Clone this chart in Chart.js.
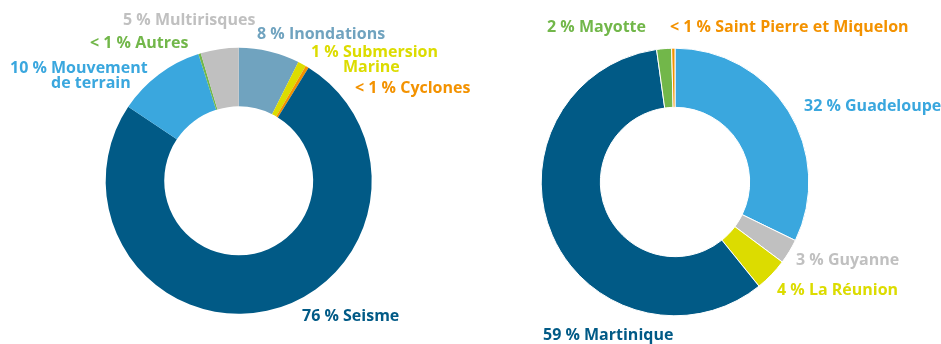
<!DOCTYPE html>
<html>
<head>
<meta charset="utf-8">
<script src="https://cdn.jsdelivr.net/npm/chart.js@4.4.1/dist/chart.umd.min.js"></script>
<style>
  html, body { margin: 0; padding: 0; background: #fff; overflow: hidden; }
  #wrap { position: relative; width: 941px; height: 344px; }
  canvas { position: absolute; top: 0; }
</style>
</head>
<body>
<div id="wrap">
  <canvas id="risques" width="470" height="344" style="left:0"></canvas>
  <canvas id="territoires" width="471" height="344" style="left:470px"></canvas>
</div>
<script>
// left: type de risque
const risqueLabels = ["Inondations", "Submersion Marine", "Cyclones", "Seisme", "Mouvement de terrain", "Autres", "Multirisques"];
const risqueValues = [7.4, 1.0, 0.4, 75.6, 10.7, 0.3, 4.6];
const risquePct = ["8 %", "1 %", "< 1 %", "76 %", "10 %", "< 1 %", "5 %"];
const risqueColors = ["#70a3bf", "#dcdc00", "#f39200", "#015a86", "#3aa7de", "#72b74a", "#c0c0c0"];

// right: territoire
const territoireLabels = ["Guadeloupe", "Guyanne", "La Réunion", "Martinique", "Mayotte", "Saint Pierre et Miquelon"];
const territoireValues = [32.2, 3.0, 4.0, 58.6, 1.8, 0.4];
const territoirePct = ["32 %", "3 %", "4 %", "59 %", "2 %", "< 1 %"];
const territoireColors = ["#3aa7de", "#c0c0c0", "#dcdc00", "#015a86", "#72b74a", "#f39200"];

const FONT = "bold 16px 'Open Sans'";

// where each label sits (left edge, vertical middle); wrap = words of the name kept on line 1
const risquePlaces = [
  { x: 257, y: 34 },
  { x: 311, y: 52, wrap: 1 },
  { x: 355, y: 88 },
  { x: 302, y: 316 },
  { x: 10, y: 68, wrap: 1 },
  { x: 90, y: 43 },
  { x: 123, y: 20 }
];
const territoirePlaces = [
  { x: 334, y: 106 },
  { x: 326, y: 260 },
  { x: 307, y: 290 },
  { x: 73, y: 335 },
  { x: 77, y: 27 },
  { x: 200, y: 27 }
];

const sliceLabels = {
  id: 'sliceLabels',
  afterDraw(chart, args, opts) {
    const ctx = chart.ctx;
    const names = chart.data.labels;
    ctx.save();
    ctx.font = FONT;
    ctx.textBaseline = 'middle';
    ctx.textAlign = 'left';
    names.forEach((name, i) => {
      const p = opts.places[i];
      ctx.fillStyle = opts.colors[i];
      const head = opts.pct[i] + " ";
      if (p.wrap) {
        const words = name.split(" ");
        ctx.fillText(head + words.slice(0, p.wrap).join(" "), p.x, p.y);
        const indent = ctx.measureText(head).width;
        ctx.fillText(words.slice(p.wrap).join(" "), p.x + indent, p.y + 15);
      } else {
        ctx.fillText(head + name, p.x, p.y);
      }
    });
    ctx.restore();
  }
};

function donut(id, labels, values, colors, pct, places, cutout, padding, border) {
  new Chart(document.getElementById(id), {
    type: 'doughnut',
    data: {
      labels: labels,
      datasets: [{
        data: values,
        backgroundColor: colors,
        borderColor: "#ffffff",
        borderWidth: border,
        hoverOffset: 0
      }]
    },
    options: {
      responsive: false,
      animation: false,
      devicePixelRatio: 1,
      cutout: cutout,
      layout: { padding: padding },
      plugins: {
        legend: { display: false },
        tooltip: { enabled: false },
        sliceLabels: { colors: colors, pct: pct, places: places }
      }
    },
    plugins: [sliceLabels]
  });
}

donut("risques", risqueLabels, risqueValues, risqueColors, risquePct, risquePlaces, "56%",
  { left: 105.7, right: 98.3, top: 47.7, bottom: 30 }, 0);
donut("territoires", territoireLabels, territoireValues, territoireColors, territoirePct, territoirePlaces, "55.8%",
  { left: 70.7, right: 131.7, top: 47.3, bottom: 27.3 }, 1);
</script>
</body>
</html>
